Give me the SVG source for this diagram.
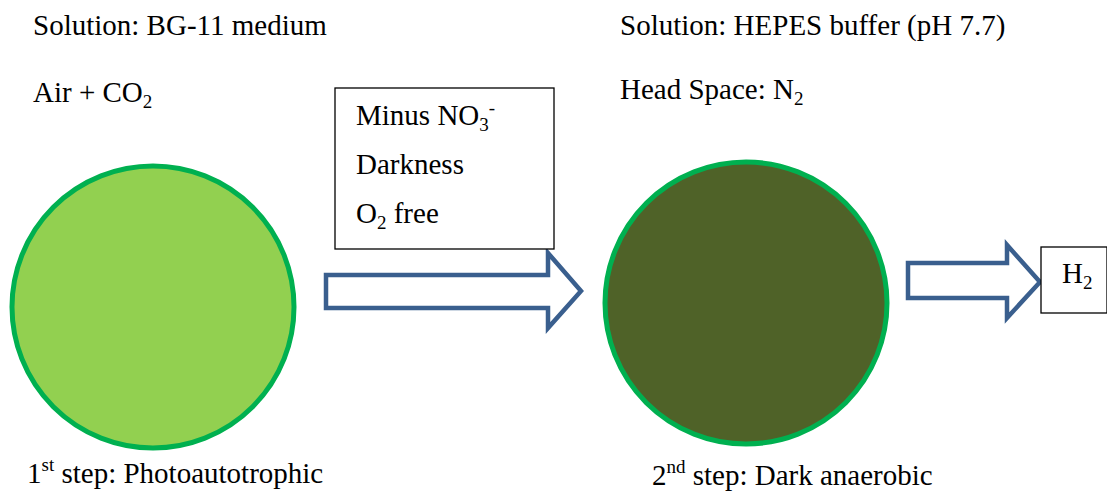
<svg xmlns="http://www.w3.org/2000/svg" width="1107" height="494" viewBox="0 0 1107 494">
<style>
text{font-family:"Liberation Serif","Times New Roman",serif;font-size:29px;fill:#000}
.sub{font-size:19px}
.cell{stroke:#00B050;stroke-width:5}
.box{fill:#fff;stroke:#000;stroke-width:1.3}
.arrow{fill:#fff;stroke:#3A5F8E;stroke-width:4.5;stroke-linejoin:miter}
</style>
<rect width="1107" height="494" fill="#fff"/>
<g id="labels-top">
<text x="33" y="35">Solution: BG-11 medium</text>
<text x="33" y="102">Air + CO<tspan class="sub" dy="6">2</tspan></text>
<text x="620" y="35">Solution: HEPES buffer (pH 7.7)</text>
<text x="620" y="99">Head Space: N<tspan class="sub" dy="6">2</tspan></text>
</g>
<g id="connectors">
<path class="arrow" d="M326,275 H548 V253 L581,291 L548,328 V308 H326 Z"/>
<path class="arrow" d="M908,263 H1007 V245 L1040,282 L1007,318 V298 H908 Z"/>
</g>
<g id="step1">
<circle class="cell" cx="153" cy="307" r="141" fill="#92D050"/>
<text x="27" y="483">1<tspan class="sub" dy="-12">st</tspan><tspan dy="12"> step: Photoautotrophic</tspan></text>
</g>
<g id="conditions">
<rect class="box" x="335" y="88" width="219" height="161"/>
<text x="356" y="125">Minus NO<tspan class="sub" dy="6">3</tspan><tspan class="sub" dy="-17">-</tspan></text>
<text x="356" y="174">Darkness</text>
<text x="356" y="223">O<tspan class="sub" dy="6">2</tspan><tspan dy="-6"> free</tspan></text>
</g>
<g id="step2">
<circle class="cell" cx="746" cy="303" r="141" fill="#4F6228"/>
<text x="652" y="485">2<tspan class="sub" dy="-12">nd</tspan><tspan dy="12"> step: Dark anaerobic</tspan></text>
</g>
<g id="h2">
<rect class="box" x="1041" y="247" width="66" height="66"/>
<text x="1062" y="283">H<tspan class="sub" dy="6">2</tspan></text>
</g>
</svg>
